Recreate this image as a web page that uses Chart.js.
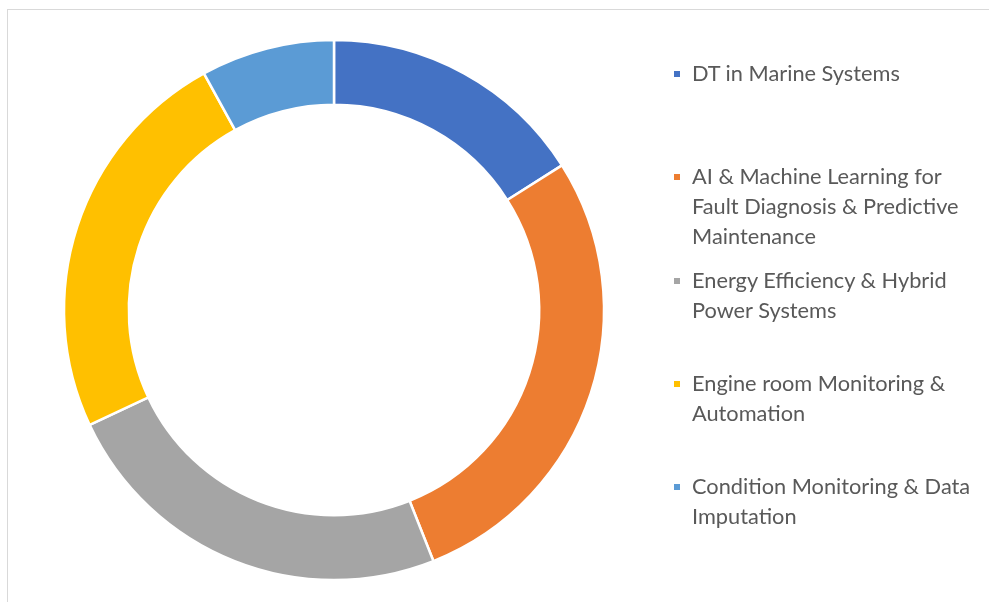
<!DOCTYPE html>
<html>
<head>
<meta charset="utf-8">
<script src="https://cdn.jsdelivr.net/npm/chart.js@4.4.1/dist/chart.umd.min.js"></script>
<style>
  html, body { margin: 0; padding: 0; background: #fff; }
  body { width: 989px; height: 602px; position: relative; overflow: hidden; }
  #frame { position: absolute; left: 7px; top: 9px; width: 1200px; height: 800px;
           border: 1px solid #d9d9d9; box-sizing: border-box; }
  #chartBox { position: absolute; left: 54px; top: 29.5px; width: 560px; height: 560px; }
  #legend { position: absolute; left: 0; top: 0; width: 989px; height: 602px; pointer-events: none; }
  .item { position: absolute; left: 692px; font-family: Lato, "Open Sans", sans-serif; color: #595959; line-height: 30px; white-space: nowrap; }
  .mark { position: absolute; width: 6px; height: 6px; }
</style>
</head>
<body>
<div id="frame"></div>
<div id="chartBox"><canvas id="c"></canvas></div>
<div id="legend"></div>
<script>
const categories = [
  "DT in Marine Systems",
  "AI & Machine Learning for Fault Diagnosis & Predictive Maintenance",
  "Energy Efficiency & Hybrid Power Systems",
  "Engine room Monitoring & Automation",
  "Condition Monitoring & Data Imputation"
];
const legendLines = [
  ["DT in Marine Systems"],
  ["AI & Machine Learning for", "Fault Diagnosis & Predictive", "Maintenance"],
  ["Energy Efficiency & Hybrid", "Power Systems"],
  ["Engine room Monitoring &", "Automation"],
  ["Condition Monitoring & Data", "Imputation"]
];
const values = [4, 7, 6, 6, 2];
const colors = ["#4472C4", "#ED7D31", "#A5A5A5", "#FFC000", "#5B9BD5"];

// fit legend font so a reference line matches the original width
const mc = document.createElement('canvas').getContext('2d');
mc.font = '100px Lato';
const refW = mc.measureText("Energy Efficiency & Hybrid").width;
const fontSize = Math.min(24, 100 * 256 / refW);

const legend = document.getElementById('legend');
legendLines.forEach((lines, i) => {
  const cy = 73 + i * 103.25;
  const item = document.createElement('div');
  item.className = 'item';
  item.style.top = (cy - 15) + 'px';
  item.style.fontSize = fontSize + 'px';
  lines.forEach((ln, j) => {
    const d = document.createElement('div');
    d.textContent = ln;
    item.appendChild(d);
  });
  legend.appendChild(item);
  const m = document.createElement('div');
  m.className = 'mark';
  m.style.left = '674px';
  m.style.top = (cy - 2) + 'px';
  m.style.background = colors[i];
  legend.appendChild(m);
});

new Chart(document.getElementById('c'), {
  type: 'doughnut',
  data: {
    labels: categories,
    datasets: [{
      data: values,
      backgroundColor: colors,
      borderColor: '#ffffff',
      borderWidth: 2.5,
      hoverOffset: 0
    }]
  },
  options: {
    responsive: true,
    maintainAspectRatio: false,
    animation: false,
    radius: 270,
    cutout: '76%',
    layout: { padding: 0 },
    plugins: {
      legend: { display: false },
      tooltip: { enabled: false },
      title: { display: false }
    }
  }
});
</script>
</body>
</html>
